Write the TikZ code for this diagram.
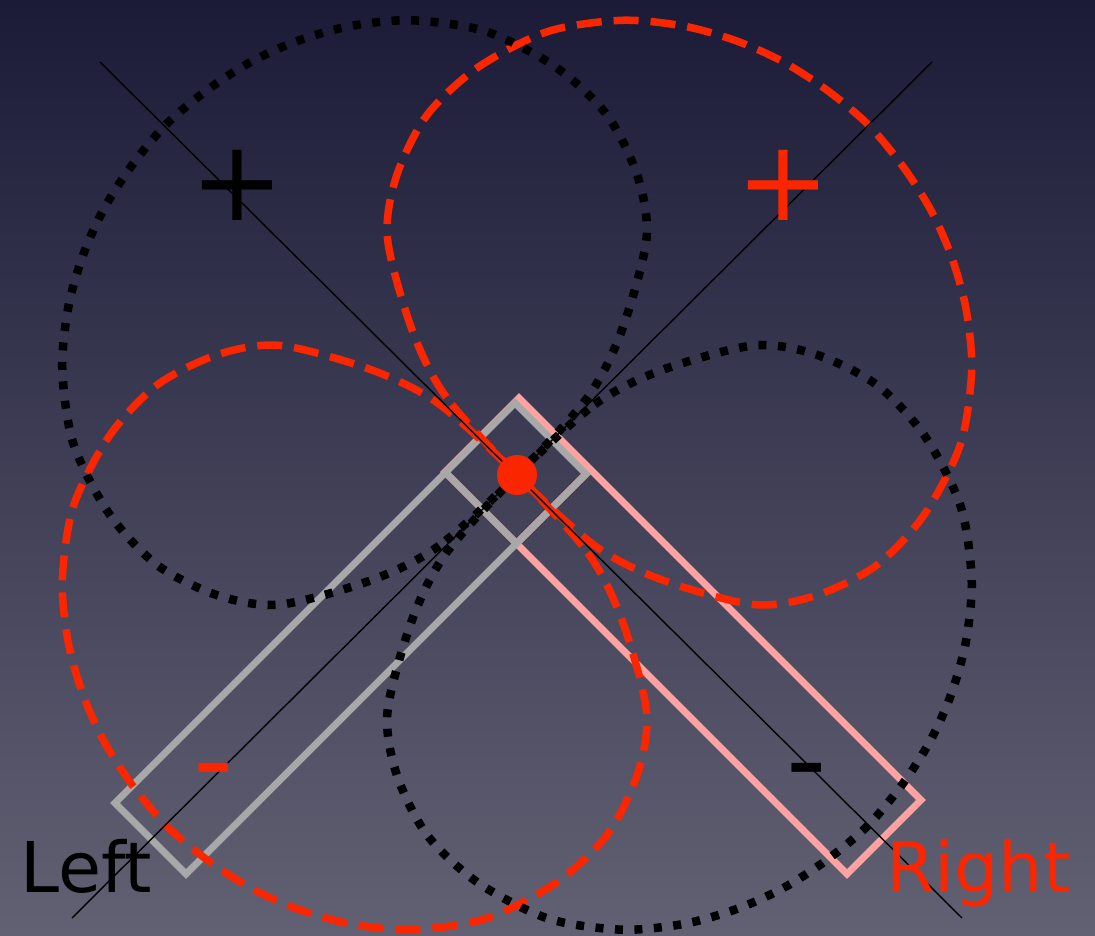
\documentclass[tikz,border=0pt]{standalone}
\usepackage{fontspec}
\setmainfont{DejaVu Sans}
\definecolor{bgtop}{RGB}{27,27,56}
\definecolor{bgbot}{RGB}{98,97,115}
\definecolor{lred}{RGB}{250,38,0}
\definecolor{mgray}{RGB}{168,168,168}
\definecolor{mpink}{RGB}{255,162,162}
\tikzset{
  blackdots/.style={draw=black, line width=8.5pt, dash pattern=on 8pt off 11.5pt},
  reddash/.style={draw=lred, line width=7.5pt, dash pattern=on 25pt off 12pt},
  micbody/.style={line width=7pt, line join=miter},
  axisline/.style={draw=black, line width=1.4pt},
  lobe/.pic={
    \path[pic actions] plot[smooth cycle] coordinates {
      (0,0) (5,105) (28,176) (75,258) (125,296) (190,318) (260,316) (335,292)
      (395,248) (435,200) (462,152) (480,105) (491,55) (496,0)
      (491,-55) (480,-105) (462,-152) (435,-200) (395,-248) (335,-292)
      (260,-316) (190,-318) (125,-296) (75,-258) (28,-176) (5,-105)};
  },
  bigsign/.style={inner sep=0pt, font=\fontsize{112}{112}\selectfont},
  label/.style={inner sep=0pt, anchor=base west, font=\fontsize{70}{70}\selectfont}
}
\begin{document}
\begin{tikzpicture}[x=1pt,y=1pt]
\useasboundingbox (0,0) rectangle (1095,935);
\shade[top color=bgtop, bottom color=bgbot] (0,0) rectangle (1095,935);
\coordinate (M) at (517,460);
% microphone bodies
\draw[micbody, mpink] (519,537) -- (921,135) -- (847,61) -- (445,463) -- cycle;
\draw[micbody, mpink] (516.5,391.5) -- (590.5,465.5);
\draw[micbody, mgray] (515,532) -- (586,461) -- (186,61) -- (115,132) -- cycle;
\draw[micbody, mgray] (445.5,462.5) -- (516.5,391.5);
% red dashed lobes
\pic[reddash, rotate=45] at (M) {lobe};
\pic[reddash, rotate=225] at (M) {lobe};
% black dotted lobes
\pic[blackdots, rotate=135] at (M) {lobe};
\pic[blackdots, rotate=-45] at (M) {lobe};
% axes
\coordinate (a1) at (100,873);
\coordinate (a2) at (962,17);
\coordinate (b1) at (932,873);
\coordinate (b2) at (72,17);
\draw[axisline] (a1) -- (a2);
\draw[axisline] (b1) -- (b2);
% centre
\fill[lred] (M) circle[radius=20pt];
% signs
\node[bigsign, text=black] (pl) at (237,750) {+};
\node[bigsign, text=lred] (pr) at (783,750) {+};
\node[bigsign, text=lred] (ml) at (214,154) {-};
\node[bigsign, text=black] (mr) at (807,154) {-};
% labels
\node[label, text=black] (left) at (20,43) {Left};
\node[label, text=lred] (right) at (886,43) {Right};
\end{tikzpicture}
\end{document}
